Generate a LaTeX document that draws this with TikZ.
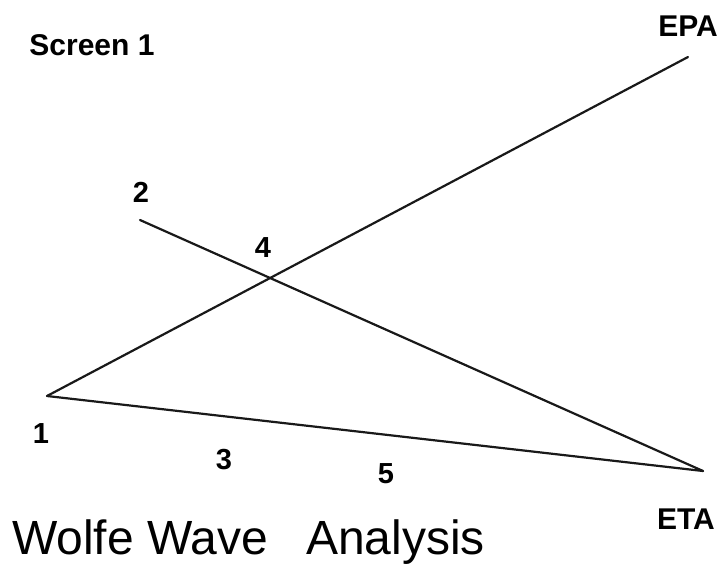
\documentclass[tikz,border=0pt]{standalone}
\usepackage{fontspec}
\setmainfont{Liberation Sans}
\begin{document}
\begin{tikzpicture}[x=1pt,y=-1pt,
  wave/.style={line width=2.2pt,line cap=round,black!90},
  lbl/.style={inner sep=0pt,font=\fontsize{30}{32}\selectfont\bfseries},
  numb/.style={inner sep=0pt,font=\fontsize{29}{31}\selectfont\bfseries},
  title/.style={inner sep=0pt,font=\fontsize{48}{52}\selectfont}]
\useasboundingbox (0,0) rectangle (722,565);
\fill[white] (0,0) rectangle (722,565);
\coordinate (p1) at (47,396);
\coordinate (epa) at (688,57);
\coordinate (p2) at (140,220);
\coordinate (eta) at (703,471);
\draw[wave] (p1) -- (epa);
\draw[wave] (p2) -- (eta);
\draw[wave] (p1) -- (eta);
\node[lbl] (screen) at (92,45) {Screen 1};
\node[lbl] (epal) at (688,26) {EPA};
\node[lbl] (etal) at (686,519) {ETA};
\node[numb] (l2) at (141,192) {2};
\node[numb] (l4) at (263,248) {4};
\node[numb] (l1) at (41,434) {1};
\node[numb] (l3) at (224,460) {3};
\node[numb] (l5) at (386,474) {5};
\node[title,anchor=base west] (ttl) at (12,554) {Wolfe Wave\hspace{38pt}Analysis};
\end{tikzpicture}
\end{document}
